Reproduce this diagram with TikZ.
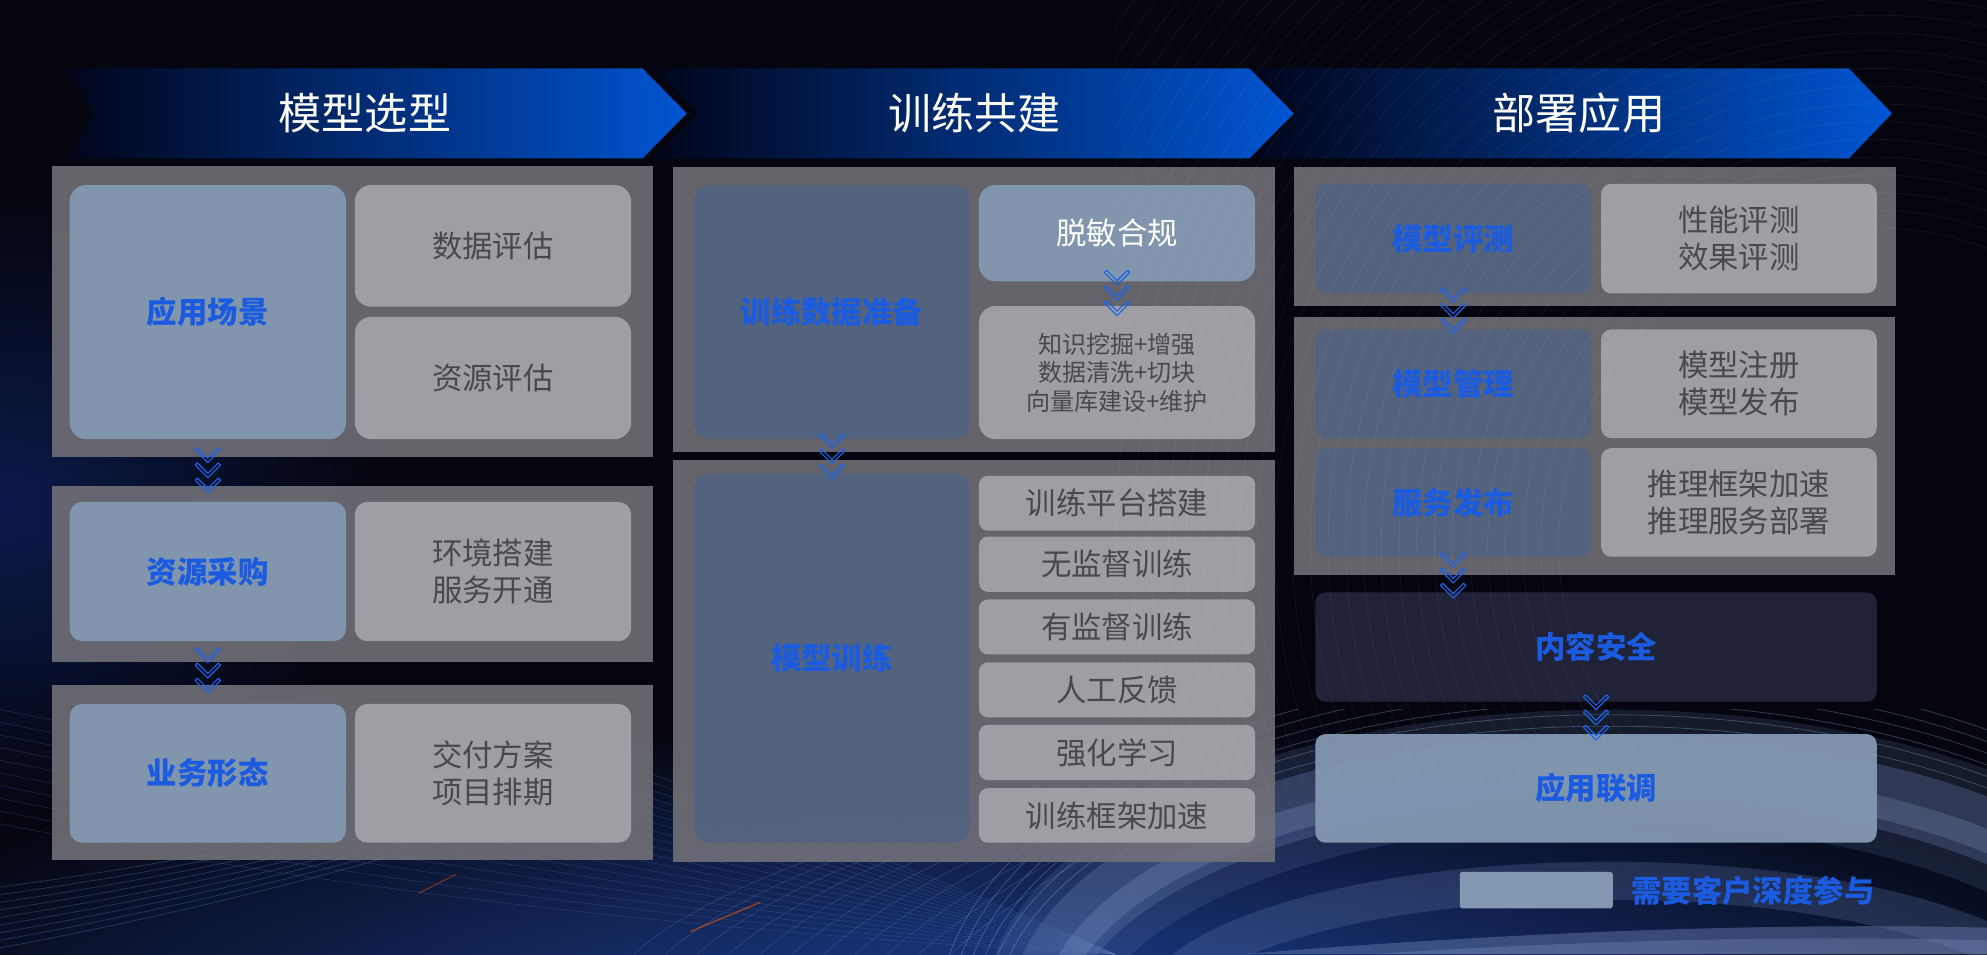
\documentclass[tikz,border=0pt]{standalone}
\usepackage{fontspec}
\setmainfont{Noto Sans CJK SC}
\usetikzlibrary{calc}
\definecolor{bg}{HTML}{04050E}
\definecolor{glowA}{HTML}{0C1A4A}
\definecolor{glowB}{HTML}{1D3F90}
\definecolor{glowC}{HTML}{1F3F8E}
\definecolor{streak}{HTML}{5C78C0}
\definecolor{ringc}{HTML}{6A80B2}
\definecolor{ringhi}{HTML}{A8BDEA}
\definecolor{boxgray}{HTML}{737279}
\definecolor{lblue}{HTML}{8398B1}
\definecolor{lgray}{HTML}{A4A3A9}
\definecolor{dblue}{HTML}{53637F}
\definecolor{dsafe}{HTML}{2A2D45}
\definecolor{tblue}{HTML}{1A5BE0}
\definecolor{tgray}{HTML}{49484D}
\definecolor{banA}{HTML}{01051A}
\definecolor{banB}{HTML}{011E68}
\definecolor{banC}{HTML}{0055D2}
\definecolor{chevblue}{HTML}{1E63E6}
\newcommand\fblue{\fontsize{24}{29}\selectfont\bfseries}
\newcommand\fgray{\fontsize{24}{29}\selectfont}
\newcommand\fsmall{\fontsize{19}{22.5}\selectfont}
\newcommand\fban{\fontsize{34}{40}\selectfont}
\newcommand\bnode[7]{\node[#1, minimum width={#5-#3}, minimum height={#6-#4}] (#2) at ({(#3+#5)/2},{(#4+#6)/2}) {#7};}
\newcommand\mybanner[4]{\path[banshade] (#1,54) -- (#3,54) -- (#4,89.5) -- (#3,125) -- (#1,125) -- (#2,89.5) -- cycle;}
\tikzset{
  outerbox/.style={rectangle, fill=boxgray, fill opacity=0.88, inner sep=0pt, outer sep=0pt},
  basenode/.style={rectangle, rounded corners=#1, inner sep=0pt, outer sep=0pt, align=center, text opacity=1},
  lbnode/.style={basenode=#1, fill=lblue, fill opacity=0.95, font=\fblue, text=tblue},
  lbnode/.default=13pt,
  dbnode/.style={basenode=#1, fill=dblue, fill opacity=0.93, font=\fblue, text=tblue},
  dbnode/.default=13pt,
  gnode/.style={basenode=#1, fill=lgray, fill opacity=0.93, font=\fgray, text=tgray},
  gnode/.default=13pt,
  banshade/.style={shade, shading=axis, left color=banA, middle color=banB, right color=banC},
  bantext/.style={font=\fban, text=white, inner sep=0pt},
  chevline/.style={draw=chevblue, line width=0.9pt, line join=round},
  chev/.pic={\foreach \k in {0,12,24}{\draw[chevline] (-10,\k) -- (0,\k+10) -- (10,\k) -- (8.25,\k-1.75) -- (0,\k+6.5) -- (-8.25,\k-1.75) -- cycle;}}
}
\begin{document}
\begin{tikzpicture}[x=1pt,y=-1pt]
\useasboundingbox (0,0) rectangle (1568,753);
% ---------- background
\fill[bg] (0,0) rectangle (1568,753);
\shade[inner color=glowA,outer color=bg] (0,400) ellipse [x radius=300,y radius=250];
\shade[inner color=glowB,outer color=bg] (800,800) ellipse [x radius=1000,y radius=230];
\begin{scope}
\clip (0,560) rectangle (1568,753);
\foreach \i in {0,...,18}{\draw[line width=.4pt, streak, opacity=.3] (0,470+\i*10) .. controls (250,520+\i*10) and (550,610+\i*7) .. (880,753);}
\foreach \i in {0,...,10}{\draw[line width=.5pt, streak, opacity=.35] (500+\i*25,753) .. controls (560+\i*25,700) and (680+\i*20,660) .. (820+\i*15,620);}
\foreach \i in {0,...,8}{\draw[line width=.6pt, streak, opacity=.35] (0,700+\i*6) .. controls (150,680+\i*5) and (300,650+\i*4) .. (450,600+\i*4);}
\draw[line width=1.2pt, orange!70!red, opacity=.5] (545,735) -- (600,712);
\draw[line width=1pt, orange!70!red, opacity=.4] (330,705) -- (360,690);
% ring
\draw[line width=90pt, ringc, opacity=.18] (1270,805) ellipse [x radius=450, y radius=200];
\draw[line width=50pt, ringc, opacity=.3] (1270,805) ellipse [x radius=450, y radius=200];
\draw[line width=18pt, ringhi, opacity=.18] (1270,805) ellipse [x radius=440, y radius=192];
\foreach \i in {0,...,5}{\draw[line width=.6pt, ringhi, opacity=.3] (1270,805) ellipse [x radius=485+\i*9, y radius=232+\i*9];}
\draw[line width=30pt, ringc, opacity=.25] (1270,805) ellipse [x radius=360, y radius=110];
\fill[ringc, opacity=.45] (980,753) .. controls (1200,735) and (1400,728) .. (1568,732) -- (1568,753) -- cycle;
\fill[ringhi, opacity=.2] (1080,753) .. controls (1250,742) and (1420,738) .. (1568,742) -- (1568,753) -- cycle;
\end{scope}
% ---------- banners
\mybanner{54}{74}{507}{542}
\mybanner{516}{551}{986}{1021}
\mybanner{989}{1024}{1459}{1493}
\node[bantext] (ban1) at (288,89.5) {模型选型};
\node[bantext] (ban2) at (769,89.5) {训练共建};
\node[bantext] (ban3) at (1246,89.5) {部署应用};
% ---------- column 1
\bnode{outerbox}{boxA}{41}{131}{515}{360.5}{}
\bnode{outerbox}{boxB}{41}{383.5}{515}{522}{}
\bnode{outerbox}{boxC}{41}{540.5}{515}{679}{}
\bnode{lbnode}{yycj}{55}{146}{273}{346.5}{应用场景}
\bnode{gnode}{sjpg}{280}{146}{498}{242}{数据评估}
\bnode{gnode}{zypg}{280}{250}{498}{346.5}{资源评估}
\bnode{lbnode=10pt}{zycg}{55}{396}{273}{506}{资源采购}
\bnode{gnode=10pt}{hjdj}{280}{396}{498}{506}{环境搭建\\服务开通}
\bnode{lbnode=10pt}{ywxt}{55}{555.5}{273}{665}{业务形态}
\bnode{gnode=10pt}{jffa}{280}{555.5}{498}{665}{交付方案\\项目排期}
% ---------- column 2
\bnode{outerbox}{boxD}{531}{131.5}{1006.5}{357}{}
\bnode{outerbox}{boxE}{531}{363}{1006.5}{680}{}
\bnode{dbnode}{xlsj}{547.5}{146}{765.5}{346.5}{训练数据准备}
\bnode{lbnode, font=\fgray, text=white}{tmhg}{772.5}{146}{990.5}{222}{脱敏合规}
\bnode{gnode, font=\fsmall}{zswj}{772.5}{241.5}{990.5}{346.5}{知识挖掘+增强\\数据清洗+切块\\向量库建设+维护}
\bnode{dbnode}{mxxl}{547.5}{373.5}{765.5}{665}{模型训练}
\bnode{gnode=7pt}{l1}{772.5}{375.5}{990.5}{418.8}{训练平台搭建}
\bnode{gnode=7pt}{l2}{772.5}{423.5}{990.5}{467}{无监督训练}
\bnode{gnode=7pt}{l3}{772.5}{473}{990.5}{516.4}{有监督训练}
\bnode{gnode=7pt}{l4}{772.5}{522.7}{990.5}{566}{人工反馈}
\bnode{gnode=7pt}{l5}{772.5}{572}{990.5}{615.6}{强化学习}
\bnode{gnode=7pt}{l6}{772.5}{622}{990.5}{665}{训练框架加速}
% ---------- column 3
\bnode{outerbox}{boxF}{1021.5}{131.5}{1496}{241.5}{}
\bnode{outerbox}{boxG}{1021.5}{250}{1495.5}{453.8}{}
\bnode{dbnode=8pt}{mxpc}{1038}{145}{1255.5}{231.5}{模型评测}
\bnode{gnode=8pt}{xnpc}{1263.5}{145}{1481}{231.5}{性能评测\\效果评测}
\bnode{dbnode=8pt}{mxgl}{1038}{260}{1255.5}{345.7}{模型管理}
\bnode{gnode=8pt}{mxzc}{1263.5}{260}{1481}{345.7}{模型注册\\模型发布}
\bnode{dbnode=8pt}{fwfb}{1038}{353.6}{1255.5}{439.3}{服务发布}
\bnode{gnode=8pt}{tlkj}{1263.5}{353.6}{1481}{439.3}{推理框架加速\\推理服务部署}
\bnode{basenode=8pt, fill=dsafe, fill opacity=0.75, font=\fblue, text=tblue}{nraq}{1038}{467.5}{1481}{553.7}{内容安全}
\bnode{lbnode=8pt}{yylt}{1038}{579.3}{1481}{665}{应用联调}
% ---------- streak arcs (top right)
\begin{scope}
\clip (880,0) rectangle (1568,620);
\foreach \r in {250,264,...,760}{\draw[white, opacity=.07, line width=.5pt] (1480,430) circle [radius=\r];}
\end{scope}
% ---------- chevrons
\path (yycj.south) ++(0,8.5) pic {chev};
\path (zycg.south) ++(0,7) pic {chev};
\path (tmhg.south) ++(0,-7) pic {chev};
\path (xlsj.south) ++(0,-2.5) pic {chev};
\path (mxpc.south) ++(0,-2.5) pic {chev};
\path (fwfb.south) ++(0,-1.3) pic {chev};
\path (nraq.south) ++(0,-3.7) pic {chev};
% ---------- legend
\bnode{basenode=2pt, fill=lblue}{legbox}{1152}{688}{1272.7}{716.8}{}
\node[font=\fblue, text=tblue, anchor=west, inner sep=0pt] (legtext) at (1287,703) {需要客户深度参与};
\end{tikzpicture}
\end{document}
